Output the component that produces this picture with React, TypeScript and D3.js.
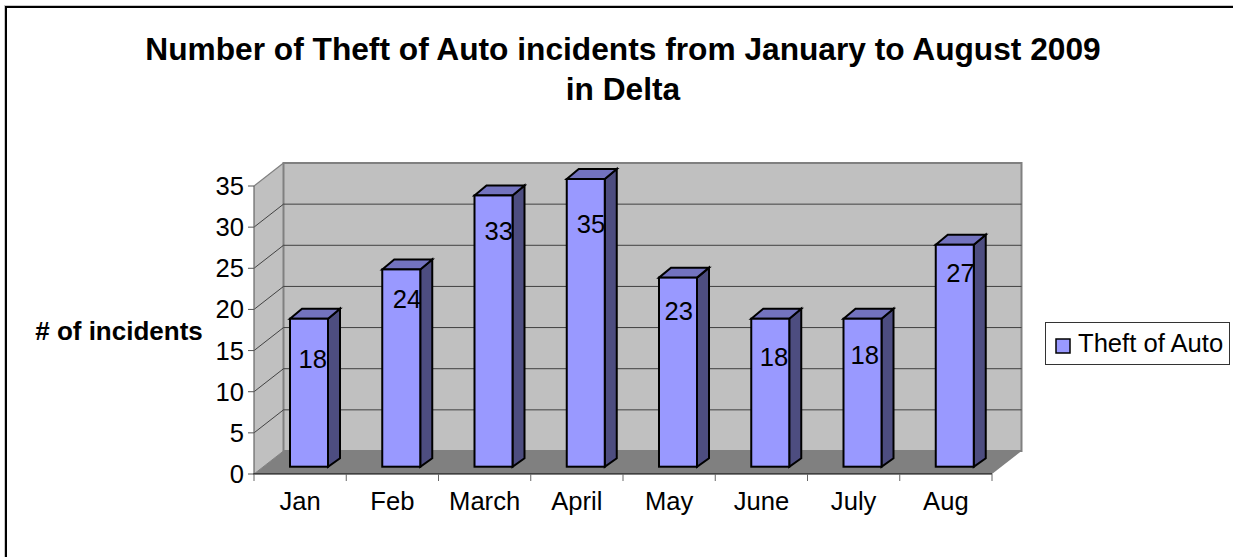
import * as React from "react";
import * as d3 from "d3";

const months = ["Jan", "Feb", "March", "April", "May", "June", "July", "Aug"];
const incidents = [18, 24, 33, 35, 23, 18, 18, 27];
const yTicks = [0, 5, 10, 15, 20, 25, 30, 35];
const seriesName = "Theft of Auto";
const titleLines = ["Number of Theft of Auto incidents from January to August 2009", "in Delta"];
// the data labels sit unevenly in the picture: drop below bar top, nudge from front edge
const labelDrop = [49, 38.6, 44.6, 54, 42.4, 47.3, 45.3, 37.2];
const labelNudge = [-1, 1, 0.5, 0.5, -4, -1, -2.5, 1];

const FONT = "'Liberation Sans', Arial, sans-serif";
const depthX = 29.5;
const depthY = -23;
const barDepthX = 12;
const barDepthTop = -10;
const barDepthBottom = -8.5;
const barWidth = 38;

const x = d3.scaleBand<string>().domain(months).range([254, 992]);
const y = d3.scaleLinear().domain([0, 35]).range([474, 186]);
const barBase = 466.7;
const barY = d3.scaleLinear().domain([0, 35]).range([barBase, 179]);

export default function App() {
    const ref = React.useRef<SVGSVGElement>(null);

    React.useEffect(() => {
        const svg = d3.select(ref.current);
        svg.selectAll("*").remove();

        // outer frame
        svg.append("rect")
            .attr("x", 4.5).attr("y", 5.5)
            .attr("width", 1240).attr("height", 570)
            .attr("fill", "none").attr("stroke", "#c8c8c8").attr("stroke-width", 1);
        svg.append("rect")
            .attr("x", 6).attr("y", 7)
            .attr("width", 1240).attr("height", 570)
            .attr("fill", "#fff").attr("stroke", "#000").attr("stroke-width", 2);

        // title
        titleLines.forEach((t, i) => {
            svg.append("text")
                .attr("x", 623).attr("y", 59.5 + i * 40.5)
                .attr("text-anchor", "middle")
                .attr("font-family", FONT).attr("font-weight", "bold").attr("font-size", 31.7)
                .text(t);
        });

        const x0 = x.range()[0];
        const x1 = x.range()[1];
        const y0 = y(0);
        const yTop = y(35);

        // left wall
        svg.append("path")
            .attr("d", `M${x0},${y0}L${x0},${yTop}L${x0 + depthX},${yTop + depthY}L${x0 + depthX},${y0 + depthY}Z`)
            .attr("fill", "#c0c0c0");
        // back wall
        svg.append("rect")
            .attr("x", x0 + depthX).attr("y", yTop + depthY)
            .attr("width", x1 - x0).attr("height", y0 - yTop)
            .attr("fill", "#c0c0c0").attr("stroke", "#808080").attr("stroke-width", 2);
        // floor
        svg.append("path")
            .attr("d", `M${x0},${y0}L${x1},${y0}L${x1 + depthX},${y0 + depthY}L${x0 + depthX},${y0 + depthY}Z`)
            .attr("fill", "#808080");

        // gridlines
        yTicks.slice(1, -1).forEach(t => {
            svg.append("line")
                .attr("x1", x0).attr("x2", x0 + depthX).attr("y1", y(t)).attr("y2", y(t) + depthY)
                .attr("stroke", "#222").attr("stroke-width", 0.8);
            svg.append("line")
                .attr("x1", x0 + depthX).attr("x2", x1 + depthX).attr("y1", y(t) + depthY).attr("y2", y(t) + depthY)
                .attr("stroke", "#404040").attr("stroke-width", 1);
        });
        svg.append("line")
            .attr("x1", x0).attr("x2", x0 + depthX).attr("y1", yTop).attr("y2", yTop + depthY)
            .attr("stroke", "#808080").attr("stroke-width", 1.2);
        svg.append("line")
            .attr("x1", x0).attr("x2", x0 + depthX).attr("y1", y0).attr("y2", y0 + depthY)
            .attr("stroke", "#808080").attr("stroke-width", 1);

        // bars
        months.forEach((m, i) => {
            const left = (x(m) as number) + 36;
            const top = barY(incidents[i]);
            const g = svg.append("g").attr("stroke", "#000").attr("stroke-width", 2).attr("stroke-linejoin", "miter");
            g.append("path")
                .attr("d", `M${left + barWidth},${top}L${left + barWidth + barDepthX},${top + barDepthTop}L${left + barWidth + barDepthX},${barBase + barDepthBottom}L${left + barWidth},${barBase}Z`)
                .attr("fill", "#4d4d80");
            g.append("path")
                .attr("d", `M${left},${top}L${left + barDepthX},${top + barDepthTop}L${left + barWidth + barDepthX},${top + barDepthTop}L${left + barWidth},${top}Z`)
                .attr("fill", "#7373bf");
            g.append("rect")
                .attr("x", left).attr("y", top)
                .attr("width", barWidth).attr("height", barBase - top)
                .attr("fill", "#9999ff");
        });

        // data labels go over all bars
        months.forEach((m, i) => {
            const left = (x(m) as number) + 36;
            svg.append("text")
                .attr("x", left + barWidth + labelNudge[i]).attr("y", barY(incidents[i]) + labelDrop[i])
                .attr("text-anchor", "end")
                .attr("font-family", FONT).attr("font-size", 25.6)
                .text(incidents[i]);
        });

        // axes
        svg.append("line")
            .attr("x1", x0).attr("x2", x0).attr("y1", yTop).attr("y2", y0)
            .attr("stroke", "#666").attr("stroke-width", 1.2);
        svg.append("line")
            .attr("x1", x0 - 1).attr("x2", x1).attr("y1", y0).attr("y2", y0)
            .attr("stroke", "#000").attr("stroke-width", 1.2);

        yTicks.forEach(t => {
            svg.append("line")
                .attr("x1", x0 - 6).attr("x2", x0).attr("y1", y(t)).attr("y2", y(t))
                .attr("stroke", "#555").attr("stroke-width", 1);
            svg.append("text")
                .attr("x", x0 - 10).attr("y", y(t) + 9)
                .attr("text-anchor", "end")
                .attr("font-family", FONT).attr("font-size", 25.6)
                .text(t);
        });

        months.forEach(m => {
            svg.append("line")
                .attr("x1", x(m) as number).attr("x2", x(m) as number).attr("y1", y0).attr("y2", y0 + 7)
                .attr("stroke", "#666").attr("stroke-width", 1);
            svg.append("text")
                .attr("x", (x(m) as number) + x.bandwidth() / 2).attr("y", 510)
                .attr("text-anchor", "middle")
                .attr("font-family", FONT).attr("font-size", 25.6)
                .text(m);
        });
        svg.append("line")
            .attr("x1", x1).attr("x2", x1).attr("y1", y0).attr("y2", y0 + 7)
            .attr("stroke", "#666").attr("stroke-width", 1);

        // y axis title
        svg.append("text")
            .attr("x", 119).attr("y", 340)
            .attr("text-anchor", "middle")
            .attr("font-family", FONT).attr("font-weight", "bold").attr("font-size", 26)
            .text("# of incidents");

        // legend
        svg.append("rect")
            .attr("x", 1045.5).attr("y", 322.5)
            .attr("width", 184).attr("height", 42)
            .attr("fill", "#fff").attr("stroke", "#333").attr("stroke-width", 1);
        svg.append("rect")
            .attr("x", 1056).attr("y", 339)
            .attr("width", 14).attr("height", 14)
            .attr("fill", "#9999ff").attr("stroke", "#000").attr("stroke-width", 1.5);
        svg.append("text")
            .attr("x", 1078).attr("y", 351.5)
            .attr("font-family", FONT).attr("font-size", 25.6)
            .text(seriesName);
    }, []);

    return (
        <svg
            ref={ref}
            width={1233}
            height={557}
            style={{ position: "fixed", left: 0, top: 0, display: "block" }}
        />
    );
}
